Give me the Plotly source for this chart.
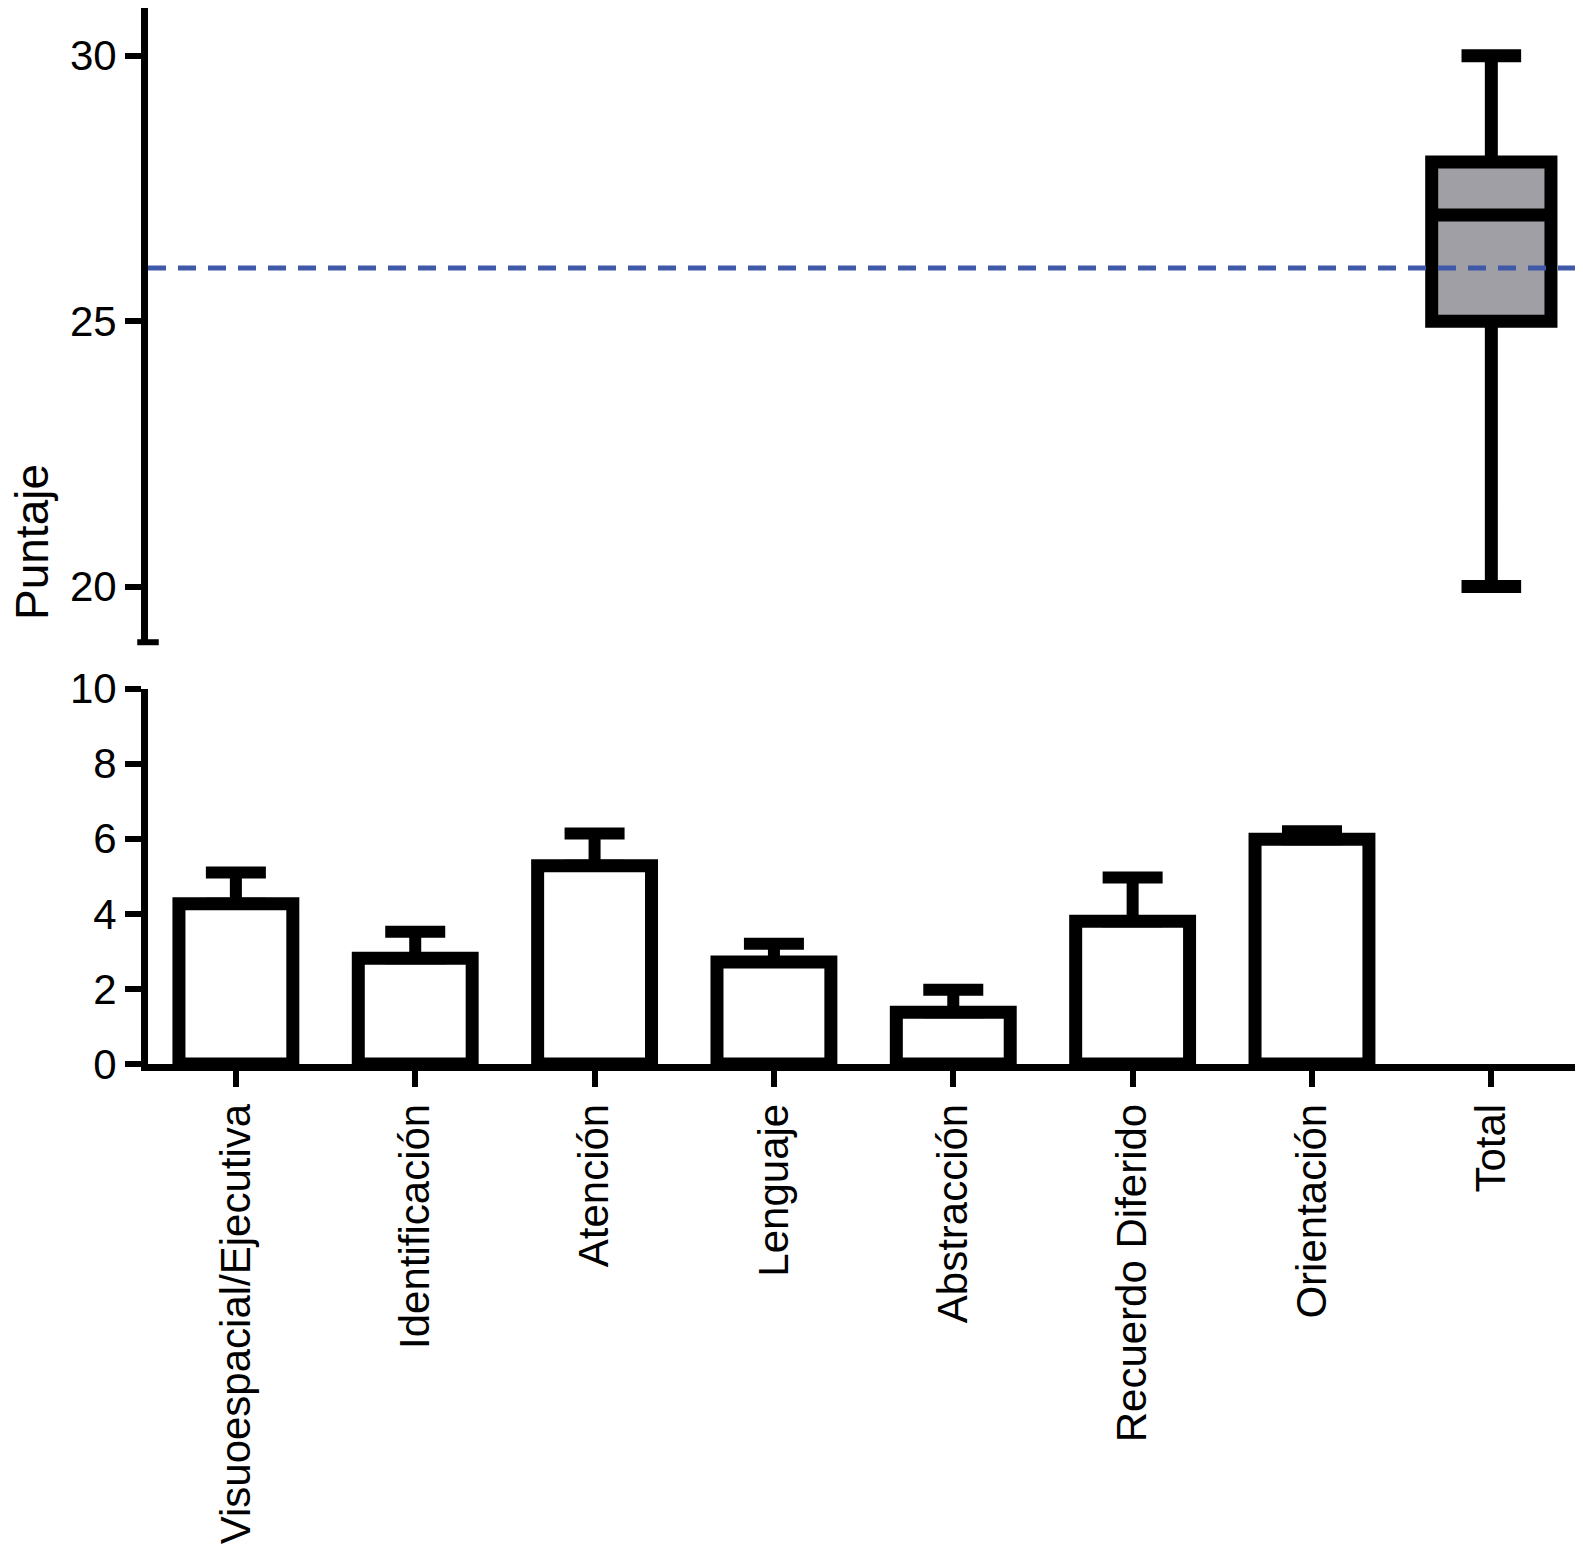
import plotly.graph_objects as go

# MoCA sub-scores (mean + SD) and total score box
categories = ["Visuoespacial/Ejecutiva", "Identificación", "Atención", "Lenguaje",
              "Abstracción", "Recuerdo Diferido", "Orientación", "Total"]
sub_names = categories[:7]
sub_means = [4.27, 2.82, 5.28, 2.72, 1.38, 3.80, 5.99]
sub_sd = [0.83, 0.70, 0.86, 0.48, 0.60, 1.17, 0.21]

total_min = [20]
total_q1 = [25]
total_median = [27]
total_q3 = [28]
total_max = [30]
cutoff = 26

fig = go.Figure()

fig.add_trace(go.Bar(
    x=sub_names, y=sub_means,
    width=0.635,
    marker=dict(color="white", line=dict(color="black", width=13)),
    error_y=dict(type="data", array=sub_sd, symmetric=False, arrayminus=[0]*7,
                 color="black", thickness=12, width=30),
    xaxis="x", yaxis="y", showlegend=False,
))

fig.add_trace(go.Box(
    x=["Total"], q1=total_q1, median=total_median, q3=total_q3,
    lowerfence=total_min, upperfence=total_max,
    width=0.665, whiskerwidth=0.5, boxpoints=False,
    fillcolor="#a09fa6", line=dict(color="black", width=13),
    xaxis="x2", yaxis="y2", showlegend=False,
))

# cut-off line
fig.add_shape(type="line", xref="x2 domain", x0=0, x1=1, yref="y2", y0=cutoff, y1=cutoff,
              line=dict(color="#3f58a8", width=5, dash="18px,12px"))
# break mark at bottom of top axis
fig.add_shape(type="line", xref="paper", x0=-0.0075, x1=0.0075, yref="y2 domain", y0=0, y1=0,
              line=dict(color="black", width=6))

font_family = "Liberation Sans, Arial, sans-serif"
tick_font = dict(family=font_family, size=42, color="black")
axis_style = dict(showline=True, linecolor="black", linewidth=7, ticks="outside",
                  ticklen=16, tickwidth=6, tickcolor="black", showgrid=False,
                  zeroline=False, tickfont=tick_font, automargin=False)

fig.update_layout(
    template="none",
    width=1583, height=1552,
    margin=dict(l=140, r=10, t=0, b=496, pad=0),
    plot_bgcolor="white", paper_bgcolor="white",
    xaxis=dict(domain=[0, 1], anchor="y", type="category",
               categoryorder="array", categoryarray=categories,
               range=[-0.49, 7.5], tickangle=-90, **axis_style),
    yaxis=dict(domain=[0, 0.3555], anchor="x", range=[0, 10],
               tickvals=[0, 2, 4, 6, 8, 10], **axis_style),
    xaxis2=dict(domain=[0, 1], anchor="y2", type="category",
                categoryorder="array", categoryarray=categories,
                range=[-0.49, 7.5], visible=False, automargin=False),
    yaxis2=dict(domain=[0.3994, 1], anchor="x2", range=[18.95, 30.90],
                tickvals=[20, 25, 30], **axis_style),
    annotations=[dict(text="Puntaje", textangle=-90, xref="paper", yref="paper",
                      x=-0.0805, y=0.494, xanchor="center", yanchor="middle",
                      showarrow=False, borderpad=0,
                      font=dict(family=font_family, size=46, color="black"))],
)

fig.write_html("out.html")
